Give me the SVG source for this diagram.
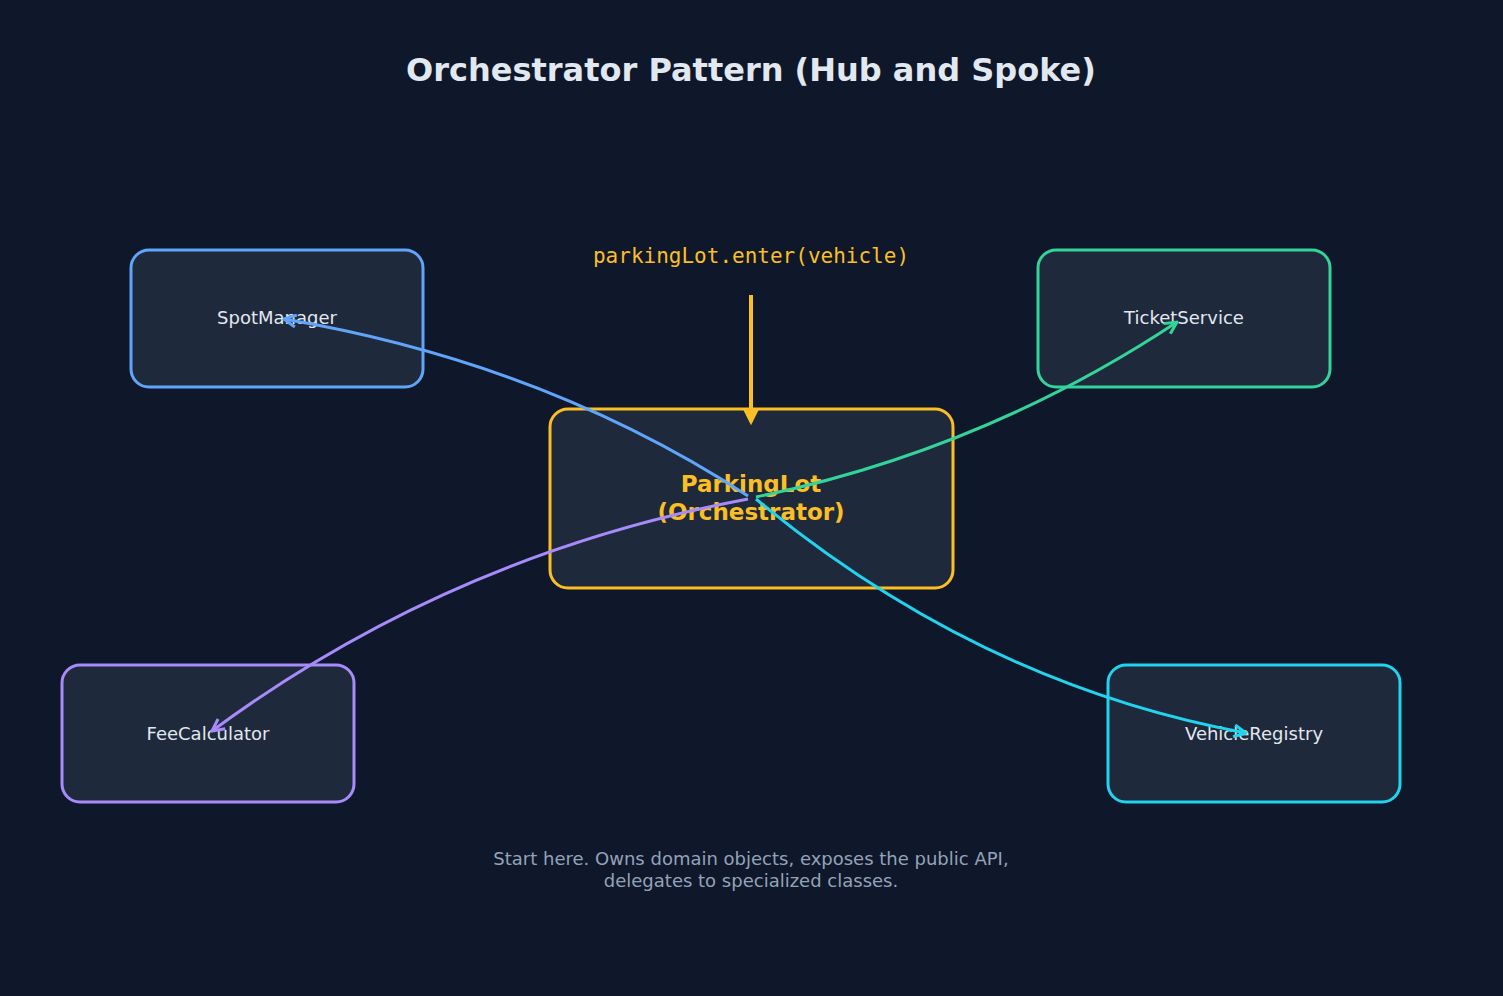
<svg xmlns="http://www.w3.org/2000/svg" width="1503" height="996" viewBox="0 0 1503 996">
<style>
.node{fill:#1e293b;stroke-width:3}
.lbl{font-family:"DejaVu Sans",sans-serif;font-size:18px;fill:#e2e8f0;text-anchor:middle}
.conn{fill:none;stroke-width:3}
</style>
<defs>
<marker id="mb" viewBox="0 0 10 10" refX="9" refY="5" markerWidth="5" markerHeight="5" orient="auto-start-reverse" markerUnits="strokeWidth"><path d="M1,1L9,5L1,9" fill="none" stroke="#60a5fa" stroke-width="2"/></marker>
<marker id="mg" viewBox="0 0 10 10" refX="9" refY="5" markerWidth="5" markerHeight="5" orient="auto" markerUnits="strokeWidth"><path d="M1,1L9,5L1,9" fill="none" stroke="#34d399" stroke-width="2"/></marker>
<marker id="mp" viewBox="0 0 10 10" refX="9" refY="5" markerWidth="5" markerHeight="5" orient="auto" markerUnits="strokeWidth"><path d="M1,1L9,5L1,9" fill="none" stroke="#a78bfa" stroke-width="2"/></marker>
<marker id="mc" viewBox="0 0 10 10" refX="9" refY="5" markerWidth="5" markerHeight="5" orient="auto" markerUnits="strokeWidth"><path d="M1,1L9,5L1,9" fill="none" stroke="#22d3ee" stroke-width="2"/></marker>
<marker id="my" viewBox="0 0 10 10" refX="8" refY="5" markerWidth="4" markerHeight="4" orient="auto" markerUnits="strokeWidth"><path d="M0,0L10,5L0,10Z" fill="#fbbf24"/></marker>
</defs>
<rect width="1503" height="996" fill="#0f172a"/>
<text x="751" y="81" font-family="DejaVu Sans,sans-serif" font-size="32" font-weight="bold" fill="#e2e8f0" text-anchor="middle">Orchestrator Pattern (Hub and Spoke)</text>
<g id="n-parkinglot"><rect class="node" x="550" y="409" width="403" height="179" rx="18" stroke="#fbbf24"/>
<text font-family="DejaVu Sans,sans-serif" font-size="23" font-weight="bold" fill="#fbbf24" text-anchor="middle"><tspan x="751" y="492">ParkingLot</tspan><tspan x="751" y="520">(Orchestrator)</tspan></text></g>
<g id="n-spot"><rect class="node" x="131" y="250" width="292" height="137" rx="18" stroke="#60a5fa"/><text class="lbl" x="277" y="324">SpotManager</text></g>
<g id="n-ticket"><rect class="node" x="1038" y="250" width="292" height="137" rx="18" stroke="#34d399"/><text class="lbl" x="1184" y="324">TicketService</text></g>
<g id="n-fee"><rect class="node" x="62" y="665" width="292" height="137" rx="18" stroke="#a78bfa"/><text class="lbl" x="208" y="740">FeeCalculator</text></g>
<g id="n-vehicle"><rect class="node" x="1108" y="665" width="292" height="137" rx="18" stroke="#22d3ee"/><text class="lbl" x="1254" y="740">VehicleRegistry</text></g>
<text x="751" y="263" font-family="DejaVu Sans Mono,monospace" font-size="21" fill="#fbbf24" text-anchor="middle">parkingLot.enter(vehicle)</text>
<g id="connectors">
<line x1="751" y1="295" x2="751" y2="422" stroke="#fbbf24" stroke-width="4" marker-end="url(#my)"/>
<path class="conn" stroke="#60a5fa" d="M748,496 Q544,363 284,319" marker-end="url(#mb)"/>
<path class="conn" stroke="#34d399" d="M756,497 Q984,450 1177,322" marker-end="url(#mg)"/>
<path class="conn" stroke="#a78bfa" d="M748,499 Q450,555 212,731" marker-end="url(#mp)"/>
<path class="conn" stroke="#22d3ee" d="M756,499 Q979,684 1246,733" marker-end="url(#mc)"/>
</g>
<text font-family="DejaVu Sans,sans-serif" font-size="18" fill="#94a3b8" text-anchor="middle"><tspan x="751" y="865">Start here. Owns domain objects, exposes the public API,</tspan><tspan x="751" y="887">delegates to specialized classes.</tspan></text>
</svg>
